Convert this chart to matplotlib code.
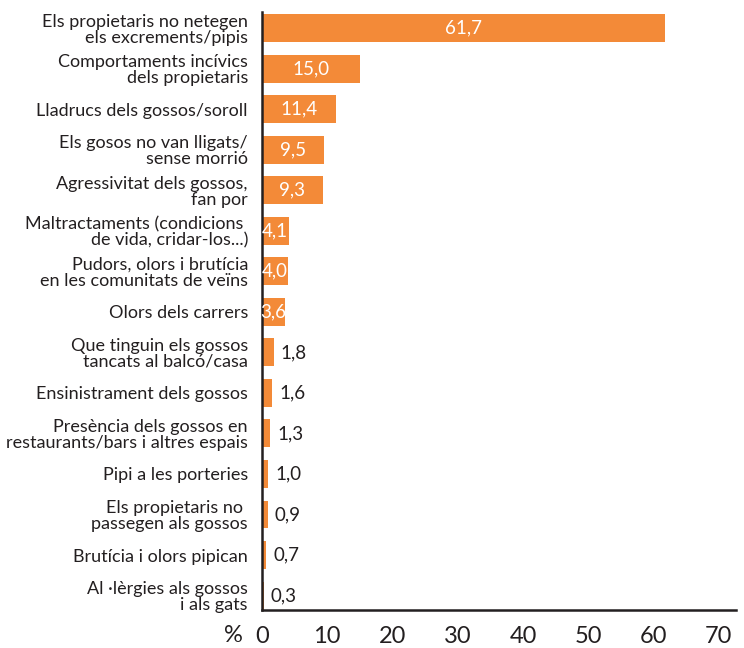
"""Queixes sobre els gossos: barres horitzontals (%)."""

import matplotlib
matplotlib.use('Agg')
import matplotlib.pyplot as plt
from matplotlib.transforms import ScaledTranslation

categories = [
    'Els propietaris no netegen\nels excrements/pipis',
    'Comportaments incívics\ndels propietaris',
    'Lladrucs dels gossos/soroll',
    'Els gosos no van lligats/\nsense morrió',
    'Agressivitat dels gossos,\nfan por',
    'Maltractaments (condicions \nde vida, cridar-los...)',
    'Pudors, olors i brutícia\nen les comunitats de veïns',
    'Olors dels carrers',
    'Que tinguin els gossos\ntancats al balcó/casa',
    'Ensinistrament dels gossos',
    'Presència dels gossos en\nrestaurants/bars i altres espais',
    'Pipi a les porteries',
    'Els propietaris no \npassegen als gossos',
    'Brutícia i olors pipican',
    'Al ·lèrgies als gossos\ni als gats',
]
values = [61.7, 15.0, 11.4, 9.5, 9.3, 4.1, 4.0, 3.6, 1.8, 1.6, 1.3, 1.0,
          0.9, 0.7, 0.3]
xticks = [0, 10, 20, 30, 40, 50, 60, 70]

ORANGE = '#F38A38'
DARK = '#231F20'
INSIDE_MIN = 3.5   # a partir d'aqui l'etiqueta va dins la barra

plt.rcParams['font.family'] = ['Lato', 'DejaVu Sans']


def main():
    fig = plt.figure(figsize=(7.44, 6.48), dpi=100)
    ax = fig.add_axes([0.352, 0.059, 0.637, 0.922])

    pos = list(range(len(values)))
    ax.barh(pos, values, height=0.69, color=ORANGE, zorder=2)

    for y, v in zip(pos, values):
        txt = f'{v:.1f}'.replace('.', ',')
        if v >= INSIDE_MIN:
            ax.text(v / 2, y, txt, ha='center', va='center', color='white',
                    fontsize=13.5)
        else:
            ax.annotate(txt, (v, y), xytext=(5, 0),
                        textcoords='offset points', ha='left', va='center',
                        color=DARK, fontsize=13.5)

    ax.set_yticks(pos)
    ax.set_yticklabels(categories, fontsize=13, color=DARK,
                       linespacing=1.0)
    ax.set_ylim(14.35, -0.39)
    ax.set_xlim(0, 72.6)
    ax.set_xticks(xticks)
    ax.set_xticklabels([str(t) for t in xticks], fontsize=17, color=DARK)
    shift = ScaledTranslation(6 / 100, 0, fig.dpi_scale_trans)
    for lab in ax.get_xticklabels():
        lab.set_transform(lab.get_transform() + shift)
    ax.tick_params(axis='both', length=0)
    ax.tick_params(axis='y', pad=10)
    ax.tick_params(axis='x', pad=12)

    ax.text(-0.061, -0.0435, '%', transform=ax.transAxes, ha='center',
            va='center', fontsize=17, color=DARK)

    for side in ('top', 'right'):
        ax.spines[side].set_visible(False)
    for side in ('left', 'bottom'):
        ax.spines[side].set_color(DARK)
        ax.spines[side].set_linewidth(1.8)

    fig.savefig('out.png', dpi=100)


if __name__ == '__main__':
    main()
